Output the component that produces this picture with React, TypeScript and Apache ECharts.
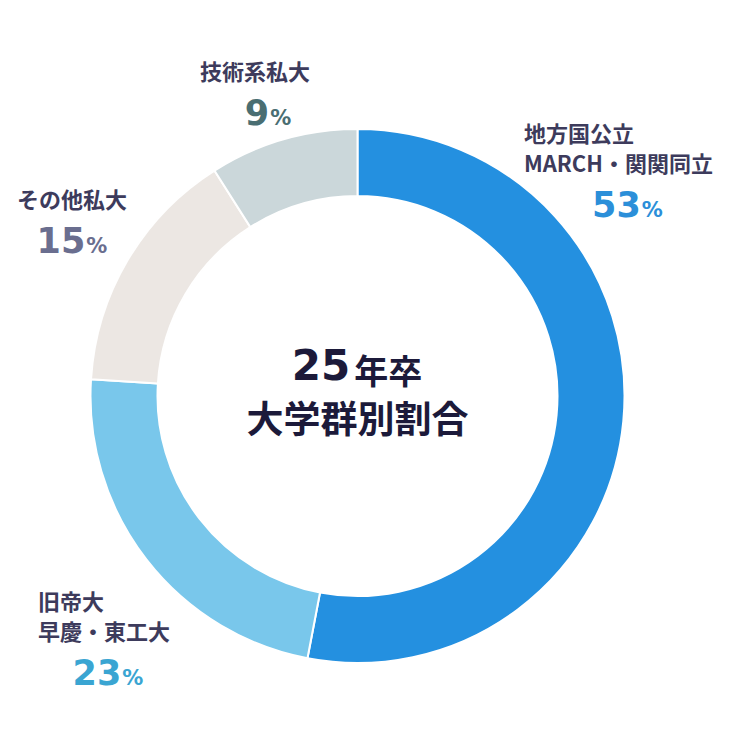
import React, { useEffect, useRef } from "react";
import * as echarts from "echarts";

const categories = ["地方国公立\nMARCH・関関同立", "旧帝大\n早慶・東工大", "その他私大", "技術系私大"];
const values = [53, 23, 15, 9];
const sliceColors = ["#2490e0", "#79c7eb", "#ece7e3", "#cbd7da"];
const valueColors = ["#2b8fd9", "#3aa5d2", "#6a6e8f", "#4a6e72"];
const centerLine1 = ["25", "年卒"];
const centerLine2 = "大学群別割合";

const labelPos = [
  { x: 524, y: 117 },
  { x: 38, y: 585 },
  { x: 17, y: 183 },
  { x: 200, y: 55 },
];
const valueShift = [18, 8, 0, 26];

const FONT = "'Noto Sans CJK JP', 'Noto Sans', sans-serif";
const NUMFONT = "'DejaVu Sans', 'Noto Sans', sans-serif";

export default function App() {
  const ref = useRef<HTMLDivElement>(null);
  useEffect(() => {
    if (!ref.current) return;
    const chart = echarts.init(ref.current, undefined, { renderer: "svg" });
    const rich: any = {
      n: { fontFamily: FONT, fontSize: 22, fontWeight: "bold", color: "#3d3b5c", lineHeight: 30, align: "left" },
    };
    valueColors.forEach((c, i) => {
      rich["v" + i] = { fontFamily: NUMFONT, fontSize: 35, fontWeight: "bold", color: c, lineHeight: 50, align: "center", verticalAlign: "bottom", padding: [0, 0, 5, valueShift[i]] };
      rich["p" + i] = { fontFamily: NUMFONT, fontSize: 21, fontWeight: "bold", color: c, lineHeight: 50, align: "center", verticalAlign: "bottom", padding: [0, 0, 7, 1] };
    });
    chart.setOption({
      animation: false,
      backgroundColor: "#ffffff",
      series: [
        {
          type: "pie",
          center: [357.5, 396],
          radius: [200, 267],
          startAngle: 90,
          clockwise: true,
          avoidLabelOverlap: false,
          itemStyle: { borderColor: "#ffffff", borderWidth: 2 },
          labelLine: { show: false },
          label: {
            show: true,
            position: "outside",
            formatter: (p: any) => {
              const lines = String(p.name).split("\n").map((l) => `{n|${l}}`).join("\n");
              return `${lines}\n{v${p.dataIndex}|${p.value}}{p${p.dataIndex}|%}`;
            },
            rich,
          },
          labelLayout: (params: any) => {
            const pos = labelPos[params.dataIndex];
            return { x: pos.x, y: pos.y, align: "left", verticalAlign: "top" };
          },
          emphasis: { disabled: true },
          data: categories.map((name, i) => ({
            name,
            value: values[i],
            itemStyle: { color: sliceColors[i] },
          })),
        },
      ],
      graphic: [
        {
          type: "text",
          x: 357,
          y: 386,
          style: {
            text: `{a|${centerLine1[0]}}{b|${centerLine1[1]}}`,
            align: "center",
            verticalAlign: "bottom",
            rich: {
              a: { fontFamily: NUMFONT, fontSize: 42, fontWeight: "bold", fill: "#1c1a3a", verticalAlign: "bottom", lineHeight: 56, padding: [0, 0, 0, 0] },
              b: { fontFamily: FONT, fontSize: 34, fontWeight: "bold", fill: "#1c1a3a", verticalAlign: "bottom", lineHeight: 56, padding: [0, 0, 0, 4] },
            },
          },
        },
        {
          type: "text",
          x: 357.5,
          y: 417,
          style: {
            text: centerLine2,
            align: "center",
            verticalAlign: "middle",
            fontFamily: FONT,
            fontSize: 37,
            fontWeight: "bold",
            fill: "#1c1a3a",
          },
        },
      ],
    });
    return () => chart.dispose();
  }, []);
  return <div ref={ref} style={{ position: "fixed", left: 0, top: 0, width: 748, height: 740 }} />;
}
